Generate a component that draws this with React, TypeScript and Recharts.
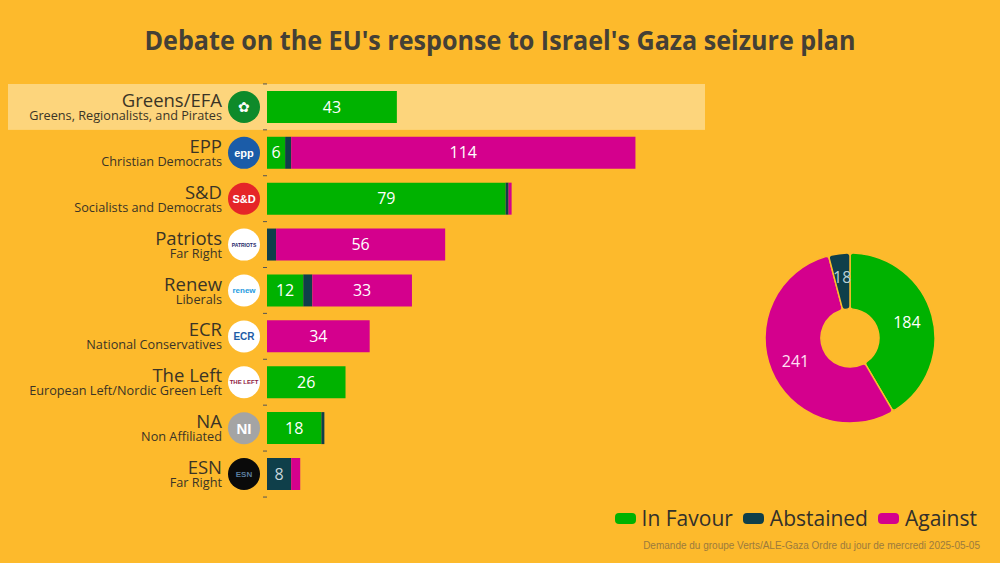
import React from 'react';
import { BarChart, Bar, XAxis, YAxis, LabelList, ReferenceArea, PieChart, Pie, Cell } from 'recharts';

const parties = ['Greens/EFA', 'EPP', 'S&D', 'Patriots', 'Renew', 'ECR', 'The Left', 'NA', 'ESN'];
const subtitles = ['Greens, Regionalists, and Pirates', 'Christian Democrats', 'Socialists and Democrats', 'Far Right', 'Liberals', 'National Conservatives', 'European Left/Nordic Green Left', 'Non Affiliated', 'Far Right'];
const inFavour = [43, 6, 79, 0, 12, 0, 26, 18, 0];
const abstained = [0, 2, 1, 3, 3, 0, 0, 1, 8];
const against = [0, 114, 1, 56, 33, 34, 0, 0, 3];
const totalLabels = ['In Favour', 'Against', 'Abstained'];
const totalValues = [184, 241, 18];

const BG = '#FDBA2C';
const GREEN = '#00B200';
const DARK = '#0F3F4A';
const PINK = '#D4008D';
const TEXT = '#3A3426';

const logos: Record<string, { bg: string; fg: string; text: string; size: number; weight?: number }> = {
  'Greens/EFA': { bg: '#0E8A2A', fg: '#ffffff', text: '✿', size: 14 },
  'EPP': { bg: '#1B5CA8', fg: '#ffffff', text: 'epp', size: 11, weight: 700 },
  'S&D': { bg: '#E52528', fg: '#ffffff', text: 'S&D', size: 11, weight: 700 },
  'Patriots': { bg: '#ffffff', fg: '#1F2A6B', text: 'PATRIOTS', size: 5, weight: 700 },
  'Renew': { bg: '#ffffff', fg: '#1E9BE0', text: 'renew', size: 8, weight: 700 },
  'ECR': { bg: '#ffffff', fg: '#1D5CA6', text: 'ECR', size: 10, weight: 700 },
  'The Left': { bg: '#ffffff', fg: '#8E1B3E', text: 'THE LEFT', size: 6, weight: 700 },
  'NA': { bg: '#A4A4A4', fg: '#ffffff', text: 'NI', size: 15, weight: 700 },
  'ESN': { bg: '#0A0A0A', fg: '#5B7E9E', text: 'ESN', size: 8, weight: 700 },
};

const data = parties.map((p, i) => ({
  party: p,
  sub: subtitles[i],
  inFavour: inFavour[i],
  abstained: abstained[i],
  against: against[i],
}));

const pieData = totalLabels.map((l, i) => ({ name: l, value: totalValues[i] }));
const pieColors = [GREEN, PINK, DARK];
const pieLabelColors = ['#ffffff', '#FFE0F4', '#B9CFD6'];

const fmt = (v: any) => (Number(v) >= 5 ? v : '');

const PartyTick = (props: any) => {
  const { x, y, payload, index } = props;
  const name = payload.value as string;
  const i = parties.indexOf(name);
  const logo = logos[name];
  const cx = x - 23;
  return (
    <g>
      <line x1={x - 4} x2={x} y1={y - 23} y2={y - 23} stroke="#555" strokeWidth={1} />
      {index === parties.length - 1 && <line x1={x - 4} x2={x} y1={y + 23} y2={y + 23} stroke="#555" strokeWidth={1} />}
      <text x={x - 45} y={y} textAnchor="end" fontSize={18.5} fill={TEXT} fontFamily="Open Sans">{name}</text>
      <text x={x - 45} y={y + 13} textAnchor="end" fontSize={12.7} fill={TEXT} fontFamily="Open Sans">{subtitles[i]}</text>
      <circle cx={cx} cy={y} r={16} fill={logo.bg} />
      <text x={cx} y={y} textAnchor="middle" dominantBaseline="central" fontSize={logo.size} fontWeight={logo.weight || 400} fill={logo.fg} fontFamily="Arial">{logo.text}</text>
    </g>
  );
};

const HighlightShape = (props: any) => {
  const { y, height } = props;
  return <rect x={8} y={y} width={697} height={height} fill="#FDD57C" />;
};

const RADIAN = Math.PI / 180;
const pieLabel = (props: any) => {
  const { cx, cy, midAngle, innerRadius, outerRadius, value, index } = props;
  const r = (innerRadius + outerRadius) / 2 + (index === 2 ? 4 : 2);
  const x = cx + r * Math.cos(-midAngle * RADIAN);
  const y = cy + r * Math.sin(-midAngle * RADIAN);
  return (
    <text x={x} y={y} textAnchor="middle" dominantBaseline="central" fill={pieLabelColors[index]} fontSize={16} fontFamily="Open Sans">{value}</text>
  );
};

const legendItems = [
  { label: 'In Favour', color: GREEN },
  { label: 'Abstained', color: DARK },
  { label: 'Against', color: PINK },
];

export default function App() {
  return (
    <div style={{ position: 'relative', width: 1000, height: 563, background: BG, overflow: 'hidden', fontFamily: 'Open Sans' }}>
      <style>{`body{margin:0}`}</style>
      <svg width={1000} height={70} style={{ position: 'absolute', left: 0, top: 0 }}>
        <text x={500} y={50} textAnchor="middle" fontSize={26} fontWeight={700} fill="#444036" fontFamily="Open Sans" textLength={711} lengthAdjust="spacingAndGlyphs">
          Debate on the EU's response to Israel's Gaza seizure plan
        </text>
      </svg>
      <div style={{ position: 'absolute', left: 0, top: 0 }}>
        <BarChart width={1000} height={563} data={data} layout="vertical" margin={{ top: 84, right: 280, bottom: 66, left: 0 }} barCategoryGap="15%">
          <XAxis type="number" hide domain={[0, 150]} />
          <YAxis type="category" dataKey="party" width={267} tick={<PartyTick />} axisLine={false} tickLine={false} tickSize={0} tickMargin={0} interval={0} />
          <ReferenceArea y1="Greens/EFA" y2="Greens/EFA" ifOverflow="visible" shape={<HighlightShape />} />
          <Bar dataKey="inFavour" stackId="a" fill={GREEN} isAnimationActive={false}>
            <LabelList dataKey="inFavour" position="center" fill="#ffffff" fontSize={16} fontFamily="Open Sans" formatter={fmt} />
          </Bar>
          <Bar dataKey="abstained" stackId="a" fill={DARK} isAnimationActive={false}>
            <LabelList dataKey="abstained" position="center" fill="#C9D6DA" fontSize={16} fontFamily="Open Sans" formatter={fmt} />
          </Bar>
          <Bar dataKey="against" stackId="a" fill={PINK} isAnimationActive={false}>
            <LabelList dataKey="against" position="center" fill="#ffffff" fontSize={16} fontFamily="Open Sans" formatter={fmt} />
          </Bar>
        </BarChart>
      </div>
      <div style={{ position: 'absolute', left: 745, top: 233 }}>
        <PieChart width={210} height={210}>
          <Pie data={pieData} dataKey="value" nameKey="name" cx={100} cy={100} innerRadius={29} outerRadius={85} startAngle={90} endAngle={-270} stroke={BG} strokeWidth={1.5} cornerRadius={3} label={pieLabel} labelLine={false} isAnimationActive={false}>
            {pieData.map((d, i) => (
              <Cell key={d.name} fill={pieColors[i]} />
            ))}
          </Pie>
        </PieChart>
      </div>
      <div style={{ position: 'absolute', right: 23, top: 504, display: 'flex', alignItems: 'center', gap: 10 }}>
        {legendItems.map((it) => (
          <div key={it.label} style={{ display: 'flex', alignItems: 'center' }}>
            <div style={{ width: 21, height: 11, borderRadius: 4, background: it.color, marginRight: 6 }} />
            <span style={{ fontSize: 21, color: '#33302A', fontFamily: 'Open Sans' }}>{it.label}</span>
          </div>
        ))}
      </div>
      <div style={{ position: 'absolute', right: 20, top: 540, fontSize: 10, color: '#9C7A3C', fontFamily: 'Liberation Sans, Arial' }}>
        Demande du groupe Verts/ALE-Gaza Ordre du jour de mercredi 2025-05-05
      </div>
    </div>
  );
}
